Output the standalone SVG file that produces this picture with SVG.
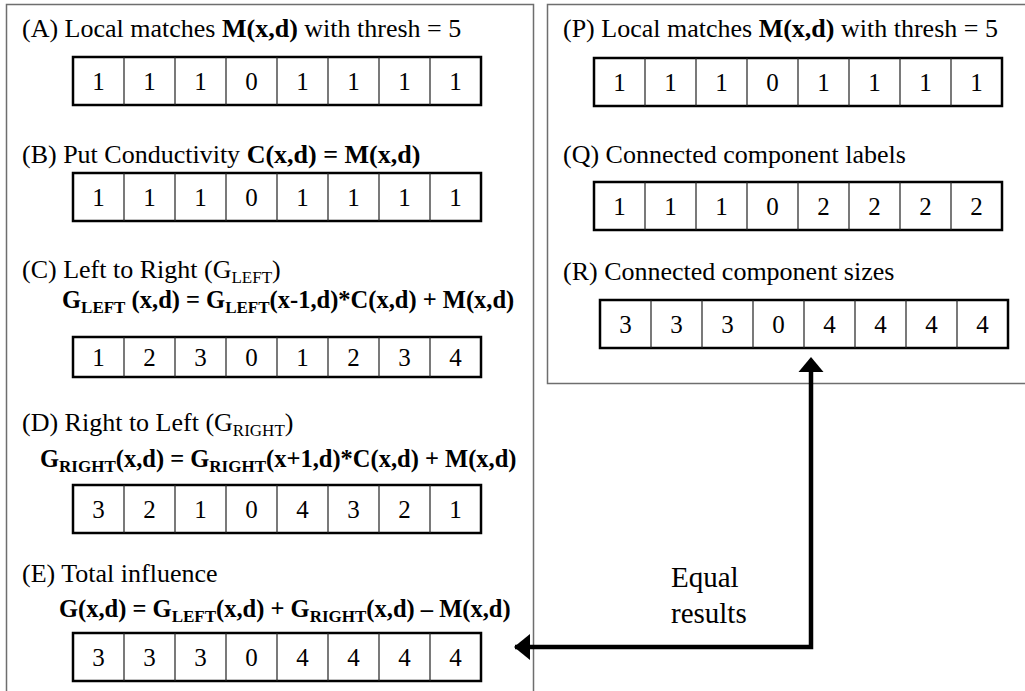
<svg xmlns="http://www.w3.org/2000/svg" width="1025" height="691" viewBox="0 0 1025 691">
  <style>
    text{font-family:"Liberation Serif","Times New Roman",serif;fill:#000}
    .lbl{font-size:26px}
    .fx{font-size:24.5px;font-weight:bold}
    .b{font-weight:bold}
    .sub{font-size:17px}
    .cell{font-size:25px;text-anchor:middle}
    .big{font-size:29px}
    .panel{fill:none;stroke:#6e6e6e;stroke-width:1.5}
    .outer{fill:#fff;stroke:#000;stroke-width:2.5}
    .div{stroke:#222;stroke-width:1.2}
    .conn{fill:none;stroke:#000;stroke-width:4.5;stroke-linejoin:miter}
  </style>
  <defs>
    <!-- eight-cell row, 51px per cell -->
    <g id="row48">
      <rect class="outer" x="0" y="0" width="408" height="48"/>
      <path class="div" d="M51,0V48M102,0V48M153,0V48M204,0V48M255,0V48M306,0V48M357,0V48"/>
    </g>
    <g id="row40">
      <rect class="outer" x="0" y="0" width="408" height="40"/>
      <path class="div" d="M51,0V40M102,0V40M153,0V40M204,0V40M255,0V40M306,0V40M357,0V40"/>
    </g>
    <marker id="head" viewBox="0 0 16 26" refX="15" refY="13" markerWidth="16" markerHeight="26" markerUnits="userSpaceOnUse" orient="auto">
      <path d="M0,0L16,13L0,26Z" fill="#000"/>
    </marker>
  </defs>

  <!-- panel frames -->
  <path class="panel" d="M6.5,692V4.5H533.5V692"/>
  <rect class="panel" x="547.5" y="4.5" width="480" height="379"/>

  <!-- (A) -->
  <g id="stepA">
    <text class="lbl" x="22" y="37">(A) Local matches <tspan class="b">M(x,d)</tspan> with thresh = 5</text>
    <use href="#row48" x="73" y="57"/>
    <text class="cell" x="98.5" y="90">1</text><text class="cell" x="149.5" y="90">1</text><text class="cell" x="200.5" y="90">1</text><text class="cell" x="251.5" y="90">0</text>
    <text class="cell" x="302.5" y="90">1</text><text class="cell" x="353.5" y="90">1</text><text class="cell" x="404.5" y="90">1</text><text class="cell" x="455.5" y="90">1</text>
  </g>

  <!-- (B) -->
  <g id="stepB">
    <text class="lbl" x="22" y="163">(B) Put Conductivity <tspan class="b">C(x,d) = M(x,d)</tspan></text>
    <use href="#row48" x="73" y="173"/>
    <text class="cell" x="98.5" y="206">1</text><text class="cell" x="149.5" y="206">1</text><text class="cell" x="200.5" y="206">1</text><text class="cell" x="251.5" y="206">0</text>
    <text class="cell" x="302.5" y="206">1</text><text class="cell" x="353.5" y="206">1</text><text class="cell" x="404.5" y="206">1</text><text class="cell" x="455.5" y="206">1</text>
  </g>

  <!-- (C) -->
  <g id="stepC">
    <text class="lbl" x="22" y="278">(C) Left to Right (G<tspan class="sub" dy="5">LEFT</tspan><tspan dy="-5">)</tspan></text>
    <text class="fx" x="62" y="308">G<tspan class="sub" dy="5">LEFT</tspan><tspan dy="-5"> (x,d) = G</tspan><tspan class="sub" dy="5">LEFT</tspan><tspan dy="-5">(x-1,d)*C(x,d) + M(x,d)</tspan></text>
    <use href="#row40" x="73" y="337"/>
    <text class="cell" x="98.5" y="366">1</text><text class="cell" x="149.5" y="366">2</text><text class="cell" x="200.5" y="366">3</text><text class="cell" x="251.5" y="366">0</text>
    <text class="cell" x="302.5" y="366">1</text><text class="cell" x="353.5" y="366">2</text><text class="cell" x="404.5" y="366">3</text><text class="cell" x="455.5" y="366">4</text>
  </g>

  <!-- (D) -->
  <g id="stepD">
    <text class="lbl" x="22" y="431">(D) Right to Left (G<tspan class="sub" dy="5">RIGHT</tspan><tspan dy="-5">)</tspan></text>
    <text class="fx" x="40" y="467">G<tspan class="sub" dy="5">RIGHT</tspan><tspan dy="-5">(x,d) = G</tspan><tspan class="sub" dy="5">RIGHT</tspan><tspan dy="-5">(x+1,d)*C(x,d) + M(x,d)</tspan></text>
    <use href="#row48" x="73" y="485"/>
    <text class="cell" x="98.5" y="518">3</text><text class="cell" x="149.5" y="518">2</text><text class="cell" x="200.5" y="518">1</text><text class="cell" x="251.5" y="518">0</text>
    <text class="cell" x="302.5" y="518">4</text><text class="cell" x="353.5" y="518">3</text><text class="cell" x="404.5" y="518">2</text><text class="cell" x="455.5" y="518">1</text>
  </g>

  <!-- (E) -->
  <g id="stepE">
    <text class="lbl" x="22" y="582">(E) Total influence</text>
    <text class="fx" x="59" y="617">G(x,d) = G<tspan class="sub" dy="5">LEFT</tspan><tspan dy="-5">(x,d) + G</tspan><tspan class="sub" dy="5">RIGHT</tspan><tspan dy="-5">(x,d) – M(x,d)</tspan></text>
    <use href="#row48" x="73" y="633"/>
    <text class="cell" x="98.5" y="666">3</text><text class="cell" x="149.5" y="666">3</text><text class="cell" x="200.5" y="666">3</text><text class="cell" x="251.5" y="666">0</text>
    <text class="cell" x="302.5" y="666">4</text><text class="cell" x="353.5" y="666">4</text><text class="cell" x="404.5" y="666">4</text><text class="cell" x="455.5" y="666">4</text>
  </g>

  <!-- (P) -->
  <g id="stepP">
    <text class="lbl" x="563" y="37">(P) Local matches <tspan class="b">M(x,d)</tspan> with thresh = 5</text>
    <use href="#row48" x="594" y="58"/>
    <text class="cell" x="619.5" y="91">1</text><text class="cell" x="670.5" y="91">1</text><text class="cell" x="721.5" y="91">1</text><text class="cell" x="772.5" y="91">0</text>
    <text class="cell" x="823.5" y="91">1</text><text class="cell" x="874.5" y="91">1</text><text class="cell" x="925.5" y="91">1</text><text class="cell" x="976.5" y="91">1</text>
  </g>

  <!-- (Q) -->
  <g id="stepQ">
    <text class="lbl" x="563" y="163">(Q) Connected component labels</text>
    <use href="#row48" x="594" y="182"/>
    <text class="cell" x="619.5" y="215">1</text><text class="cell" x="670.5" y="215">1</text><text class="cell" x="721.5" y="215">1</text><text class="cell" x="772.5" y="215">0</text>
    <text class="cell" x="823.5" y="215">2</text><text class="cell" x="874.5" y="215">2</text><text class="cell" x="925.5" y="215">2</text><text class="cell" x="976.5" y="215">2</text>
  </g>

  <!-- (R) -->
  <g id="stepR">
    <text class="lbl" x="563" y="280">(R) Connected component sizes</text>
    <use href="#row48" x="600" y="300"/>
    <text class="cell" x="625.5" y="333">3</text><text class="cell" x="676.5" y="333">3</text><text class="cell" x="727.5" y="333">3</text><text class="cell" x="778.5" y="333">0</text>
    <text class="cell" x="829.5" y="333">4</text><text class="cell" x="880.5" y="333">4</text><text class="cell" x="931.5" y="333">4</text><text class="cell" x="982.5" y="333">4</text>
  </g>

  <!-- connector: R sizes equal E totals -->
  <g id="connectors">
    <path class="conn" d="M811,366V647H515" marker-end="url(#head)"/>
    <path d="M811,357L798.5,372H823.5Z" fill="#000"/>
    <text class="big" x="671" y="587">Equal</text>
    <text class="big" x="671" y="623">results</text>
  </g>
</svg>
